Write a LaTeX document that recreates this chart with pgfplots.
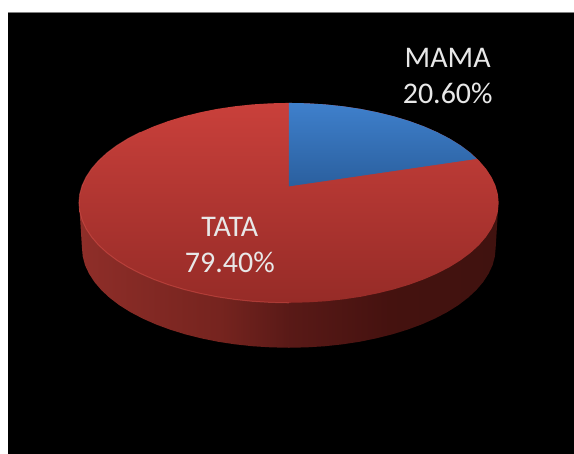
\documentclass[border=0pt]{standalone}
\usepackage{pgfplots}
\pgfplotsset{compat=1.18}
\usepackage{fontspec}
\setmainfont{Carlito}
\definecolor{txt}{HTML}{E8E8E8}
\definecolor{redA}{HTML}{C9403B}
\definecolor{redB}{HTML}{962B27}
\definecolor{rim}{HTML}{D9524C}
\definecolor{bluA}{HTML}{3F80CC}
\definecolor{bluB}{HTML}{2A5F9E}
\pgfdeclarehorizontalshading{sideshade}{100bp}{
 rgb(0bp)=(0.56,0.18,0.16);
 rgb(25bp)=(0.56,0.18,0.16);
 rgb(42bp)=(0.46,0.14,0.12);
 rgb(50bp)=(0.35,0.10,0.09);
 rgb(62bp)=(0.27,0.07,0.06);
 rgb(75bp)=(0.25,0.07,0.06);
 rgb(100bp)=(0.30,0.09,0.07)}
\begin{document}
\begin{tikzpicture}
\begin{axis}[
  scale only axis, width=574pt, height=454pt,
  xmin=0, xmax=574, ymin=0, ymax=454, y dir=reverse,
  hide axis, clip=false]
% page and background
\addplot[draw=none, fill=white] coordinates {(0,0)(574,0)(574,454)(0,454)} -- cycle;
\addplot[draw=none, fill=black] coordinates {(8,12)(574,12)(574,454)(8,454)} -- cycle;
\addplot[draw=black!50!white, line width=0.8pt] coordinates {(8,12)(574,12)};
% side wall
\addplot[draw=none, shading=sideshade] coordinates {
(79.5,208)(82,248)(82.8,256.7)(85.1,265.4)(89.1,273.9)(94.5,282.2)(101.4,290.3)(109.7,298)(119.4,305.4)(130.4,312.3)(142.6,318.7)(155.9,324.6)(170.3,329.9)(185.5,334.6)(201.5,338.6)(218.2,342)(235.4,344.6)(253.1,346.5)(271,347.6)(289,348)
(307,347.6)(324.9,346.5)(342.6,344.6)(359.8,342)(376.5,338.6)(392.5,334.6)(407.7,329.9)(422.1,324.6)(435.4,318.7)(447.6,312.3)(458.6,305.4)(468.3,298)(476.6,290.3)(483.5,282.2)(488.9,273.9)(492.9,265.4)(495.2,256.7)(496,248)(498.5,208)} -- cycle;
% top face
\addplot[draw=none, top color=redA, bottom color=redB] coordinates {
(499,203)(498.2,211.7)(495.8,220.4)(491.8,228.9)(486.3,237.2)(479.3,245.3)(470.9,253)(461,260.4)(449.9,267.3)(437.5,273.7)(424,279.6)(409.5,284.9)(394,289.6)(377.7,293.6)(360.8,297)(343.4,299.6)(325.5,301.5)(307.3,302.6)(289,303)
(270.7,302.6)(252.5,301.5)(234.6,299.6)(217.2,297)(200.3,293.6)(184,289.6)(168.5,284.9)(154,279.6)(140.5,273.7)(128.1,267.3)(117,260.4)(107.1,253)(98.7,245.3)(91.7,237.2)(86.2,228.9)(82.2,220.4)(79.8,211.7)(79,203)
(79.8,194.3)(82.2,185.6)(86.2,177.1)(91.7,168.8)(98.7,160.7)(107.1,153)(117,145.6)(128.1,138.7)(140.5,132.3)(154,126.4)(168.5,121.1)(184,116.4)(200.3,112.4)(217.2,109)(234.6,106.4)(252.5,104.5)(270.7,103.4)(289,103)
(307.3,103.4)(325.5,104.5)(343.4,106.4)(360.8,109)(377.7,112.4)(394,116.4)(409.5,121.1)(424,126.4)(437.5,132.3)(449.9,138.7)(461,145.6)(470.9,153)(479.3,160.7)(486.3,168.8)(491.8,177.1)(495.8,185.6)(498.2,194.3)} -- cycle;
% rim highlight on the left and lower edge
\addplot[line width=1pt, color=rim, opacity=0.5] coordinates {
(140.5,132.3)(128.1,138.7)(117,145.6)(107.1,153)(98.7,160.7)(91.7,168.8)(86.2,177.1)(82.2,185.6)(79.8,194.3)(79,203)(79.8,211.7)(82.2,220.4)(86.2,228.9)(91.7,237.2)(98.7,245.3)(107.1,253)(117,260.4)(128.1,267.3)(140.5,273.7)(154,279.6)(168.5,284.9)(184,289.6)(200.3,293.6)(217.2,297)(234.6,299.6)(252.5,301.5)(270.7,302.6)(289,303)};
% MAMA slice
\addplot[draw=none, top color=bluA, bottom color=bluB] coordinates {
(289,186.5)(289,103)(307.3,103.4)(325.5,104.5)(343.4,106.4)(360.8,109)(377.7,112.4)(394,116.4)(409.5,121.1)(424,126.4)(437.5,132.3)(449.9,138.7)(461,145.6)(470.9,153)(477,159)} -- cycle;
\node[text=txt, font=\fontsize{30}{36}\selectfont, align=center] at (axis cs:448,76) {MAMA\\20.60\%};
\node[text=txt, font=\fontsize{30}{36}\selectfont, align=center] at (axis cs:230,245) {TATA\\79.40\%};
\end{axis}
\end{tikzpicture}
\end{document}
